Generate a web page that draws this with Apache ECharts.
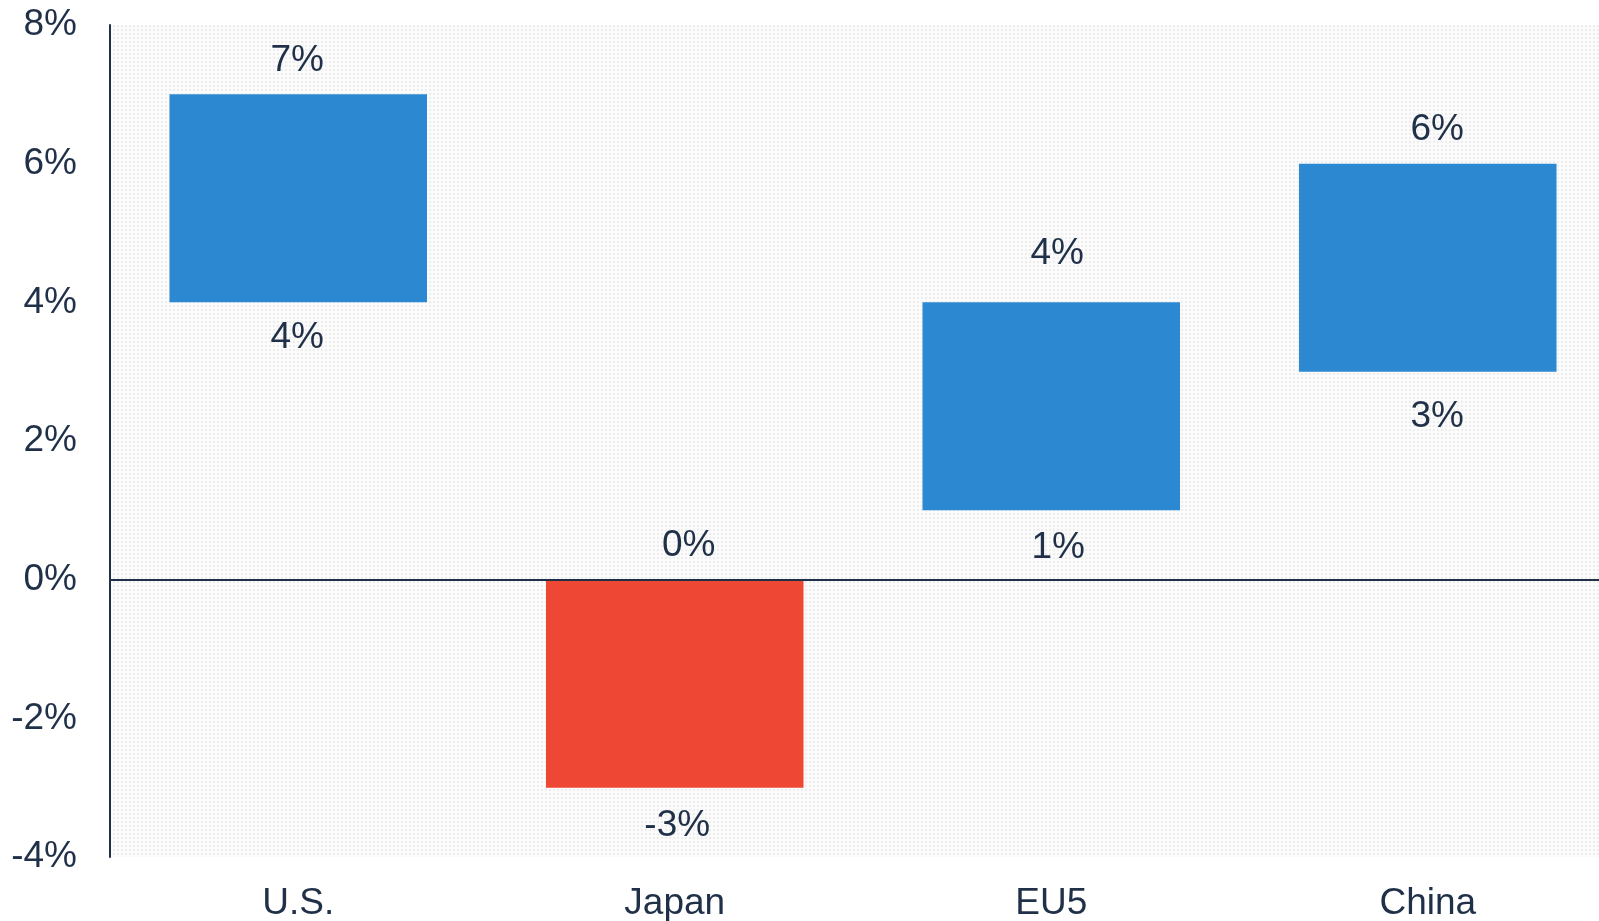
<!DOCTYPE html>
<html>
<head>
<meta charset="utf-8">
<script src="https://cdn.jsdelivr.net/npm/echarts@6/dist/echarts.min.js"></script>
<style>
html,body{margin:0;padding:0;background:#fff;}
#chart{width:1599px;height:921px;}
</style>
</head>
<body>
<div id="chart"></div>
<script>
// ---- data ----
const categories = ['U.S.', 'Japan', 'EU5', 'China'];
const lows = [4, -3, 1, 3];
const highs = [7, 0, 4, 6];
const yTicks = [-4, -2, 0, 2, 4, 6, 8];

// ---- styles (kept separate from the data) ----
const barColors = ['#2b88d1', '#ee4834', '#2b88d1', '#2b88d1'];
const topLabelStyle = [{dx: -1, gap: 34}, {dx: 14, gap: 34}, {dx: 6, gap: 49}, {dx: 9.5, gap: 34}];
const bottomLabelStyle = [{dx: -1, gap: 35.5}, {dx: 2.5, gap: 38}, {dx: 7, gap: 37}, {dx: 9.5, gap: 45.5}];

const textColor = '#1f3048';
const fontFamily = 'Liberation Sans, Arial, sans-serif';
const fontSize = 37;

// dotted background pattern
const pat = document.createElement('canvas');
pat.width = 4; pat.height = 4;
const pctx = pat.getContext('2d');
pctx.fillStyle = '#fbfbfb';
pctx.fillRect(0, 0, 4, 4);
pctx.fillStyle = '#ededed';
pctx.fillRect(1, 1, 2, 2);

const data = categories.map((c, i) => [i, lows[i], highs[i]]);

const chart = echarts.init(document.getElementById('chart'), null, {renderer: 'canvas'});
chart.setOption({
  animation: false,
  grid: {
    left: 110, width: 1506, top: 25, bottom: 64,
    outerBoundsMode: 'none',
    containLabel: false,
    show: true,
    borderWidth: 0,
    backgroundColor: {image: pat, repeat: 'repeat'}
  },
  xAxis: {
    type: 'category',
    data: categories,
    axisLine: {show: false},
    axisTick: {show: false},
    axisLabel: {
      color: textColor, fontSize: fontSize, fontFamily: fontFamily, margin: 28
    }
  },
  yAxis: {
    type: 'value',
    min: yTicks[0], max: yTicks[yTicks.length - 1], interval: 2,
    axisLine: {show: true, lineStyle: {color: textColor, width: 2}},
    axisTick: {show: false},
    splitLine: {show: false},
    axisLabel: {
      color: textColor, fontSize: fontSize, fontFamily: fontFamily, margin: 33,
      formatter: v => v + '%'
    }
  },
  series: [
    {
      type: 'custom',
      data: data,
      encode: {x: 0, y: [1, 2]},
      clip: false,
      renderItem: function (params, api) {
        const idx = api.value(0);
        const lo = api.value(1);
        const hi = api.value(2);
        const pTop = api.coord([idx, hi]);
        const pBot = api.coord([idx, lo]);
        const band = api.size([1, 0])[0];
        const w = band * 0.684;
        const x = pTop[0] - w / 2;
        const ci = params.dataIndex;
        const ts = topLabelStyle[ci], bs = bottomLabelStyle[ci];
        return {
          type: 'group',
          children: [
            {
              type: 'rect',
              shape: {x: x, y: pTop[1], width: w, height: pBot[1] - pTop[1]},
              style: {fill: barColors[ci]}
            },
            {
              type: 'text',
              x: pTop[0] + ts.dx, y: pTop[1] - ts.gap,
              style: {
                text: hi + '%', fill: textColor, fontSize: fontSize, fontFamily: fontFamily,
                align: 'center', verticalAlign: 'middle'
              }
            },
            {
              type: 'text',
              x: pTop[0] + bs.dx, y: pBot[1] + bs.gap,
              style: {
                text: lo + '%', fill: textColor, fontSize: fontSize, fontFamily: fontFamily,
                align: 'center', verticalAlign: 'middle'
              }
            }
          ]
        };
      },
      markLine: {
        silent: true,
        symbol: 'none',
        label: {show: false},
        lineStyle: {color: textColor, width: 2, type: 'solid'},
        data: [{yAxis: 0}]
      }
    }
  ]
});
</script>
</body>
</html>
